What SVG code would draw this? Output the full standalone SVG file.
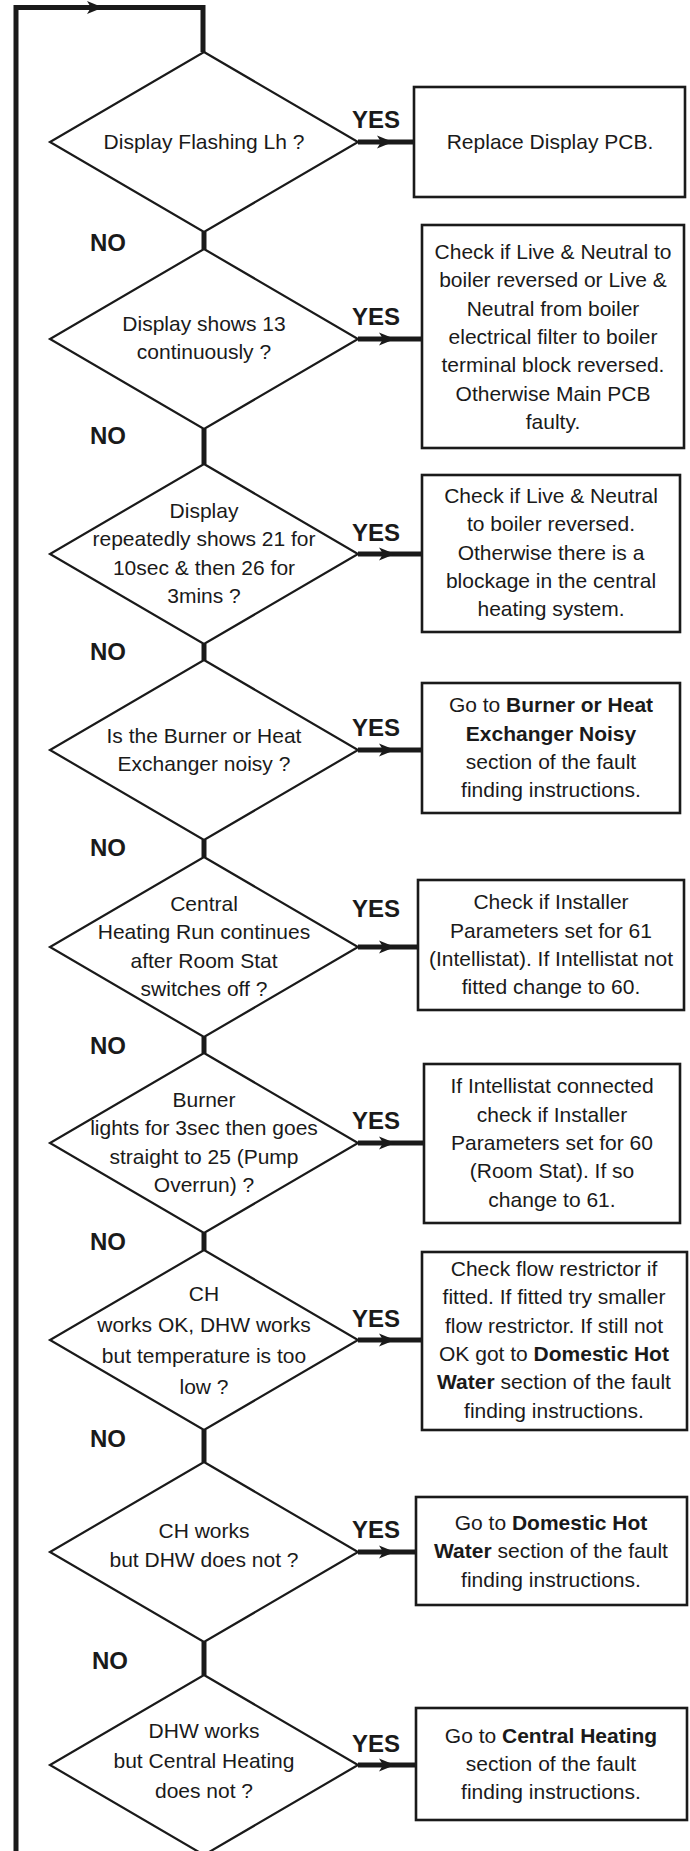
<svg xmlns="http://www.w3.org/2000/svg" width="690" height="1851" viewBox="0 0 690 1851">
<style>
.bg{fill:#ffffff}
.dia{fill:#ffffff;stroke:#1a1a1a;stroke-width:2.2}
.box{fill:#ffffff;stroke:#1a1a1a;stroke-width:2.6}
.t{font-family:"Liberation Sans",Arial,sans-serif;font-size:21px;fill:#1a1a1a;text-anchor:middle}
.b{font-weight:bold}
.lbl{font-family:"Liberation Sans",Arial,sans-serif;font-size:24px;font-weight:bold;fill:#1a1a1a}
.thick{fill:none;stroke:#1a1a1a;stroke-width:5}
.head{fill:#1a1a1a}
</style>
<defs>
<path id="ah" d="M-16,-6.5 L0,0 L-16,6.5 L-12,0 Z"/>
</defs>
<rect class="bg" x="0" y="0" width="690" height="1851"/>

<g id="connectors">
<polyline class="thick" points="16,1851 16,7.5 203,7.5 203,52"/>
<use href="#ah" class="head" transform="translate(103,7.5)"/>
<line class="thick" x1="204" y1="232" x2="204" y2="249"/>
<line class="thick" x1="204" y1="429" x2="204" y2="464"/>
<line class="thick" x1="204" y1="644" x2="204" y2="660"/>
<line class="thick" x1="204" y1="840" x2="204" y2="857"/>
<line class="thick" x1="204" y1="1037" x2="204" y2="1053"/>
<line class="thick" x1="204" y1="1233" x2="204" y2="1250"/>
<line class="thick" x1="204" y1="1430" x2="204" y2="1462"/>
<line class="thick" x1="204" y1="1642" x2="204" y2="1675"/>
<line class="thick" x1="358" y1="142" x2="415" y2="142"/>
<use href="#ah" class="head" transform="translate(393,142)"/>
<line class="thick" x1="358" y1="339" x2="423" y2="339"/>
<use href="#ah" class="head" transform="translate(395,339)"/>
<line class="thick" x1="358" y1="554" x2="423" y2="554"/>
<use href="#ah" class="head" transform="translate(395,554)"/>
<line class="thick" x1="358" y1="750" x2="423" y2="750"/>
<use href="#ah" class="head" transform="translate(395,750)"/>
<line class="thick" x1="358" y1="947" x2="419" y2="947"/>
<use href="#ah" class="head" transform="translate(395,947)"/>
<line class="thick" x1="358" y1="1143" x2="425" y2="1143"/>
<use href="#ah" class="head" transform="translate(395,1143)"/>
<line class="thick" x1="358" y1="1340" x2="423" y2="1340"/>
<use href="#ah" class="head" transform="translate(395,1340)"/>
<line class="thick" x1="358" y1="1552" x2="417" y2="1552"/>
<use href="#ah" class="head" transform="translate(395,1552)"/>
<line class="thick" x1="358" y1="1765" x2="417" y2="1765"/>
<use href="#ah" class="head" transform="translate(395,1765)"/>
<text class="lbl" x="352" y="128">YES</text>
<text class="lbl" x="352" y="325">YES</text>
<text class="lbl" x="352" y="541">YES</text>
<text class="lbl" x="352" y="736">YES</text>
<text class="lbl" x="352" y="917">YES</text>
<text class="lbl" x="352" y="1129">YES</text>
<text class="lbl" x="352" y="1327">YES</text>
<text class="lbl" x="352" y="1538">YES</text>
<text class="lbl" x="352" y="1752">YES</text>
<text class="lbl" x="90" y="251">NO</text>
<text class="lbl" x="90" y="444">NO</text>
<text class="lbl" x="90" y="660">NO</text>
<text class="lbl" x="90" y="856">NO</text>
<text class="lbl" x="90" y="1054">NO</text>
<text class="lbl" x="90" y="1250">NO</text>
<text class="lbl" x="90" y="1447">NO</text>
<text class="lbl" x="92" y="1669">NO</text>
</g>

<g id="q1"><polygon class="dia" points="204,52 358,142 204,232 50,142"/>
<text class="t" x="204" y="149">Display Flashing Lh ?</text></g>
<g id="a1"><rect class="box" x="414" y="87" width="271" height="110"/>
<text class="t" x="550" y="149">Replace Display PCB.</text></g>

<g id="q2"><polygon class="dia" points="204,249 358,339 204,429 50,339"/>
<text class="t" x="204" y="331">Display shows 13</text>
<text class="t" x="204" y="359">continuously ?</text></g>
<g id="a2"><rect class="box" x="422" y="225" width="262" height="223"/>
<text class="t" x="553" y="259">Check if Live &amp; Neutral to</text>
<text class="t" x="553" y="287">boiler reversed or Live &amp;</text>
<text class="t" x="553" y="316">Neutral from boiler</text>
<text class="t" x="553" y="344">electrical filter to boiler</text>
<text class="t" x="553" y="372">terminal block reversed.</text>
<text class="t" x="553" y="401">Otherwise Main PCB</text>
<text class="t" x="553" y="429">faulty.</text></g>

<g id="q3"><polygon class="dia" points="204,464 358,554 204,644 50,554"/>
<text class="t" x="204" y="518">Display</text>
<text class="t" x="204" y="546">repeatedly shows 21 for</text>
<text class="t" x="204" y="575">10sec &amp; then 26 for</text>
<text class="t" x="204" y="603">3mins ?</text></g>
<g id="a3"><rect class="box" x="422" y="475" width="258" height="157"/>
<text class="t" x="551" y="503">Check if Live &amp; Neutral</text>
<text class="t" x="551" y="531">to boiler reversed.</text>
<text class="t" x="551" y="560">Otherwise there is a</text>
<text class="t" x="551" y="588">blockage in the central</text>
<text class="t" x="551" y="616">heating system.</text></g>

<g id="q4"><polygon class="dia" points="204,660 358,750 204,840 50,750"/>
<text class="t" x="204" y="743">Is the Burner or Heat</text>
<text class="t" x="204" y="771">Exchanger noisy ?</text></g>
<g id="a4"><rect class="box" x="422" y="683" width="258" height="130"/>
<text class="t" x="551" y="712">Go to <tspan class="b">Burner or Heat</tspan></text>
<text class="t b" x="551" y="741">Exchanger Noisy</text>
<text class="t" x="551" y="769">section of the fault</text>
<text class="t" x="551" y="797">finding instructions.</text></g>

<g id="q5"><polygon class="dia" points="204,857 358,947 204,1037 50,947"/>
<text class="t" x="204" y="911">Central</text>
<text class="t" x="204" y="939">Heating Run continues</text>
<text class="t" x="204" y="968">after Room Stat</text>
<text class="t" x="204" y="996">switches off ?</text></g>
<g id="a5"><rect class="box" x="418" y="880" width="266" height="130"/>
<text class="t" x="551" y="909">Check if Installer</text>
<text class="t" x="551" y="938">Parameters set for 61</text>
<text class="t" x="551" y="966">(Intellistat). If Intellistat not</text>
<text class="t" x="551" y="994">fitted change to 60.</text></g>

<g id="q6"><polygon class="dia" points="204,1053 358,1143 204,1233 50,1143"/>
<text class="t" x="204" y="1107">Burner</text>
<text class="t" x="204" y="1135">lights for 3sec then goes</text>
<text class="t" x="204" y="1164">straight to 25 (Pump</text>
<text class="t" x="204" y="1192">Overrun) ?</text></g>
<g id="a6"><rect class="box" x="424" y="1064" width="256" height="159"/>
<text class="t" x="552" y="1093">If Intellistat connected</text>
<text class="t" x="552" y="1122">check if Installer</text>
<text class="t" x="552" y="1150">Parameters set for 60</text>
<text class="t" x="552" y="1178">(Room Stat). If so</text>
<text class="t" x="552" y="1207">change to 61.</text></g>

<g id="q7"><polygon class="dia" points="204,1250 358,1340 204,1430 50,1340"/>
<text class="t" x="204" y="1301">CH</text>
<text class="t" x="204" y="1332">works OK, DHW works</text>
<text class="t" x="204" y="1363">but temperature is too</text>
<text class="t" x="204" y="1394">low ?</text></g>
<g id="a7"><rect class="box" x="422" y="1252" width="265" height="178"/>
<text class="t" x="554" y="1276">Check flow restrictor if</text>
<text class="t" x="554" y="1304">fitted. If fitted try smaller</text>
<text class="t" x="554" y="1333">flow restrictor. If still not</text>
<text class="t" x="554" y="1361">OK got to <tspan class="b">Domestic Hot</tspan></text>
<text class="t" x="554" y="1389"><tspan class="b">Water</tspan> section of the fault</text>
<text class="t" x="554" y="1418">finding instructions.</text></g>

<g id="q8"><polygon class="dia" points="204,1462 358,1552 204,1642 50,1552"/>
<text class="t" x="204" y="1538">CH works</text>
<text class="t" x="204" y="1567">but DHW does not ?</text></g>
<g id="a8"><rect class="box" x="416" y="1497" width="271" height="108"/>
<text class="t" x="551" y="1530">Go to <tspan class="b">Domestic Hot</tspan></text>
<text class="t" x="551" y="1558"><tspan class="b">Water</tspan> section of the fault</text>
<text class="t" x="551" y="1587">finding instructions.</text></g>

<g id="q9"><polygon class="dia" points="204,1675 358,1765 204,1855 50,1765"/>
<text class="t" x="204" y="1738">DHW works</text>
<text class="t" x="204" y="1768">but Central Heating</text>
<text class="t" x="204" y="1798">does not ?</text></g>
<g id="a9"><rect class="box" x="416" y="1708" width="271" height="112"/>
<text class="t" x="551" y="1743">Go to <tspan class="b">Central Heating</tspan></text>
<text class="t" x="551" y="1771">section of the fault</text>
<text class="t" x="551" y="1799">finding instructions.</text></g>
</svg>
